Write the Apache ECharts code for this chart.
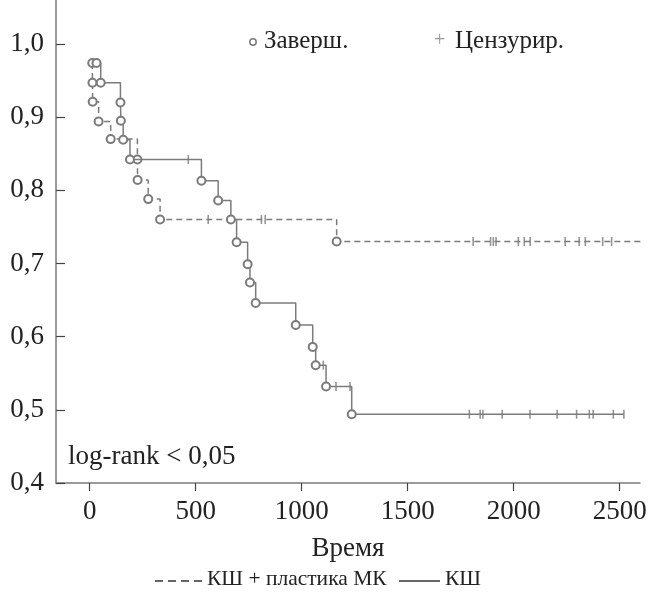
<!DOCTYPE html>
<html>
<head>
<meta charset="utf-8">
<script src="https://cdn.jsdelivr.net/npm/echarts@6/dist/echarts.min.js"></script>
<style>
  html, body { margin: 0; padding: 0; background: #fff; }
  #chart { width: 651px; height: 595px; }
</style>
</head>
<body>
<div id="chart"></div>
<script>
// КШ (сплошная): моменты событий и уровни выживаемости после них
const solidTimes = [32, 52, 145, 147, 158, 190, 527, 606, 666, 693, 745, 756, 783, 972, 1052, 1066, 1115, 1236]
const solidSurv = [0.974, 0.947, 0.920, 0.895, 0.869, 0.842, 0.813, 0.786, 0.760, 0.729, 0.699, 0.674, 0.646, 0.616, 0.586, 0.561, 0.532, 0.494]
const solidCensor = [465, 1102, 1162, 1228, 1791, 1842, 1855, 1946, 2077, 2205, 2297, 2357, 2375, 2470, 2520]
const solidEnd = 2520

// КШ + пластика МК (пунктир)
const dashTimes = [12, 13, 14, 42, 99, 225, 226, 276, 332, 1165]
const dashSurv = [0.974, 0.947, 0.921, 0.894, 0.870, 0.842, 0.814, 0.788, 0.760, 0.730]
const dashCensor = [559, 810, 828, 1809, 1891, 1904, 1917, 2022, 2050, 2078, 2243, 2309, 2338, 2420, 2462]
const dashEnd = 2640

const xTicks = [0, 500, 1000, 1500, 2000, 2500]
const yTicks = [0.4, 0.5, 0.6, 0.7, 0.8, 0.9, 1.0]

const gray = '#7b7b7b'
const font = 'Liberation Serif'

function levelAt(times, surv, t) {
  let s = 1
  for (let i = 0; i < times.length; i++) {
    if (times[i] <= t) s = surv[i]
  }
  return s
}

function stepData(times, surv, end) {
  const d = times.map((t, i) => [t, surv[i]])
  d.push({ value: [end, surv[surv.length - 1]], symbol: 'none' })
  return d
}

function censorData(times, surv, cens) {
  return cens.map(t => [t, levelAt(times, surv, t)])
}

const myChart = echarts.init(document.getElementById('chart'))
myChart.setOption({
  animation: false,
  grid: { left: 56, right: 11, top: 0, bottom: 112 },
  xAxis: {
    type: 'value',
    min: -159,
    max: 2596,
    name: 'Время',
    nameLocation: 'middle',
    nameGap: 52,
    nameTextStyle: { fontFamily: font, fontSize: 27, color: '#222' },
    splitLine: { show: false },
    axisLine: { onZero: false, lineStyle: { color: gray, width: 1.5 } },
    axisTick: { customValues: xTicks, length: 8, lineStyle: { color: '#444', width: 1.2 } },
    axisLabel: {
      customValues: xTicks,
      margin: 15,
      fontFamily: font,
      fontSize: 27,
      color: '#222',
      formatter: v => String(v)
    }
  },
  yAxis: {
    type: 'value',
    min: 0.4,
    max: 1.0601,
    splitLine: { show: false },
    axisLine: { show: true, onZero: false, lineStyle: { color: gray, width: 1.5 } },
    axisTick: { customValues: yTicks, inside: true, length: 9, lineStyle: { color: '#444', width: 1.2 } },
    axisLabel: {
      customValues: yTicks,
      margin: 12,
      fontFamily: font,
      fontSize: 27,
      color: '#222',
      formatter: v => v.toFixed(1).replace('.', ',')
    }
  },
  series: [
    {
      name: 'КШ + пластика МК',
      type: 'line',
      step: 'end',
      clip: false,
      data: stepData(dashTimes, dashSurv, dashEnd),
      symbol: 'emptyCircle',
      symbolSize: 8,
      lineStyle: { color: gray, width: 1.5, type: [6, 4] },
      itemStyle: { color: gray, borderWidth: 1.6 },
      z: 3
    },
    {
      name: 'КШ',
      type: 'line',
      step: 'end',
      data: stepData(solidTimes, solidSurv, solidEnd),
      symbol: 'emptyCircle',
      symbolSize: 8,
      lineStyle: { color: gray, width: 1.5 },
      itemStyle: { color: gray, borderWidth: 1.6 },
      z: 4
    },
    {
      type: 'scatter',
      data: censorData(dashTimes, dashSurv, dashCensor),
      symbol: 'rect',
      symbolSize: [1.6, 9],
      itemStyle: { color: gray },
      z: 2
    },
    {
      type: 'scatter',
      data: censorData(solidTimes, solidSurv, solidCensor),
      symbol: 'rect',
      symbolSize: [1.6, 9],
      itemStyle: { color: gray },
      z: 2
    }
  ],
  graphic: [
    { type: 'circle', shape: { cx: 253, cy: 42, r: 3.2 }, style: { fill: '#fff', stroke: gray, lineWidth: 1.5 } },
    { type: 'text', left: 264, top: 29, style: { text: 'Заверш.', font: '25px "Liberation Serif"', fill: '#222' } },
    { type: 'text', left: 434, top: 31, style: { text: '+', font: '20px "Liberation Serif"', fill: '#999' } },
    { type: 'text', left: 455, top: 29, style: { text: 'Цензурир.', font: '25px "Liberation Serif"', fill: '#222' } },
    { type: 'text', left: 68, top: 443, style: { text: 'log-rank < 0,05', font: '27px "Liberation Serif"', fill: '#222' } },
    { type: 'line', shape: { x1: 155, y1: 581, x2: 203, y2: 581 }, style: { stroke: '#333', lineWidth: 1.3, lineDash: [8, 5] } },
    { type: 'text', left: 207, top: 568, style: { text: 'КШ + пластика МК', font: '21.5px "Liberation Serif"', fill: '#222' } },
    { type: 'line', shape: { x1: 399, y1: 581, x2: 440, y2: 581 }, style: { stroke: '#333', lineWidth: 1.3 } },
    { type: 'text', left: 445, top: 568, style: { text: 'КШ', font: '21.5px "Liberation Serif"', fill: '#222' } }
  ]
})
</script>
</body>
</html>
